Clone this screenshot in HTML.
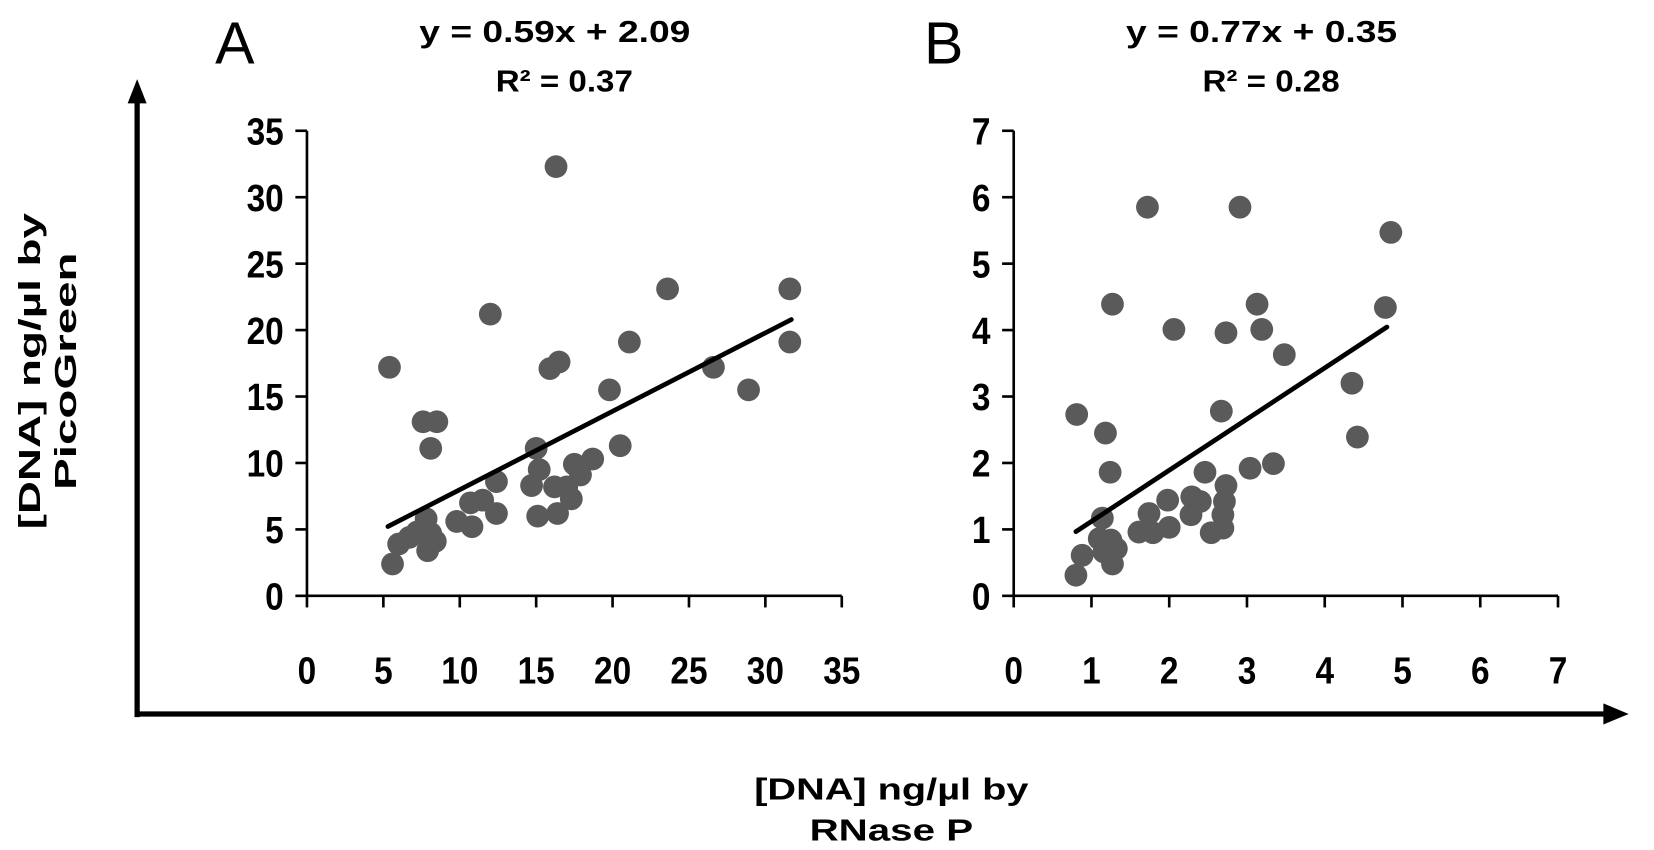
<!DOCTYPE html>
<html><head><meta charset="utf-8"><style>
html,body{margin:0;padding:0;background:#fff;}
svg{display:block;}
text{font-family:"Liberation Sans",sans-serif;font-weight:bold;fill:#000;}
</style></head><body>
<svg id="fig" width="1654" height="850" viewBox="0 0 1568 806" preserveAspectRatio="none" xmlns="http://www.w3.org/2000/svg">
<g id="frame">
<line x1="130" y1="680" x2="130" y2="95" stroke="#000" stroke-width="5"/>
<polygon points="130,75 121,98 139,98" fill="#000"/>
<line x1="128" y1="677" x2="1522" y2="677" stroke="#000" stroke-width="5"/>
<polygon points="1544,677 1520,667 1520,687" fill="#000"/>
<text transform="translate(38,352) rotate(-90)" text-anchor="middle" font-size="29" textLength="300" lengthAdjust="spacingAndGlyphs">[DNA] ng/µl by</text>
<text transform="translate(72,352) rotate(-90)" text-anchor="middle" font-size="29" textLength="225" lengthAdjust="spacingAndGlyphs">PicoGreen</text>
<text x="845" y="758" text-anchor="middle" font-size="29" textLength="260" lengthAdjust="spacingAndGlyphs">[DNA] ng/µl by</text>
<text x="845" y="797" text-anchor="middle" font-size="29" textLength="155" lengthAdjust="spacingAndGlyphs">RNase P</text>
<text x="204" y="60" font-size="56" style="font-weight:normal">A</text>
<text x="876" y="60" font-size="56" style="font-weight:normal">B</text>
<text x="526" y="40" text-anchor="middle" font-size="29" textLength="257" lengthAdjust="spacingAndGlyphs">y = 0.59x + 2.09</text>
<text x="535" y="87" text-anchor="middle" font-size="29" textLength="130" lengthAdjust="spacingAndGlyphs">R² = 0.37</text>
<text x="1196" y="40" text-anchor="middle" font-size="29" textLength="257" lengthAdjust="spacingAndGlyphs">y = 0.77x + 0.35</text>
<text x="1205" y="87" text-anchor="middle" font-size="29" textLength="130" lengthAdjust="spacingAndGlyphs">R² = 0.28</text>
</g>
<g id="panelA"></g>
<g id="panelB"></g>
</svg>
<script>
const ticksA = [0,5,10,15,20,25,30,35];
const ticksB = [0,1,2,3,4,5,6,7];
const xA = [16.3,12.0,23.6,31.6,31.6,21.1,26.6,28.9,5.4,15.9,16.5,19.8,7.6,8.5,8.1,20.5,15.0,15.2,14.7,18.7,17.5,17.9,16.2,17.0,17.3,16.4,15.1,12.4,12.4,11.5,10.7,9.8,10.8,7.8,8.1,7.2,6.7,6.0,7.9,8.4,5.6];
const yA = [32.3,21.2,23.1,23.1,19.1,19.1,17.2,15.5,17.2,17.1,17.6,15.5,13.1,13.1,11.1,11.3,11.1,9.5,8.3,10.3,9.9,9.1,8.2,8.2,7.3,6.2,6.0,8.6,6.2,7.2,7.0,5.6,5.2,5.8,4.7,4.8,4.4,3.9,3.4,4.1,2.4];
const xB = [1.72,2.91,4.85,1.27,3.13,4.78,2.06,2.73,3.19,3.48,4.35,4.42,0.81,1.18,2.67,1.24,2.46,3.04,3.34,2.73,1.98,2.29,2.40,1.74,2.28,2.71,2.69,2.00,1.79,1.61,2.54,2.69,1.14,1.10,1.25,1.32,1.16,1.27,0.88,0.80];
const yB = [5.85,5.85,5.47,4.39,4.39,4.34,4.01,3.96,4.01,3.63,3.20,2.39,2.73,2.45,2.78,1.86,1.86,1.92,1.99,1.66,1.44,1.49,1.42,1.24,1.22,1.42,1.22,1.03,0.95,0.96,0.95,1.02,1.17,0.86,0.84,0.71,0.66,0.48,0.61,0.31];
const fitA = [0.59, 2.09];
const fitB = [0.77, 0.35];
const fitRangeA = [5.3, 31.7];
const fitRangeB = [0.8, 4.8];

const NS = "http://www.w3.org/2000/svg";
function mk(tag, attrs, parent){
  const e = document.createElementNS(NS, tag);
  for (const k in attrs) e.setAttribute(k, attrs[k]);
  parent.appendChild(e);
  return e;
}
function panel(g, key, cfg, ticks, xs, ys, fit, range){
  const max = ticks[ticks.length-1];
  const sx = v => cfg.x0 + (v/max)*cfg.w;
  const sy = v => cfg.y0 - (v/max)*cfg.h;
  const ya = mk('line',{x1:cfg.x0,y1:sy(max),x2:cfg.x0,y2:cfg.y0,stroke:'#000','stroke-width':2.5},g);
  
  
  const xa = mk('line',{x1:cfg.x0,y1:cfg.y0,x2:sx(max),y2:cfg.y0,stroke:'#000','stroke-width':2.5},g);
  
  
  ticks.forEach(t=>{
    const yt = mk('line',{x1:cfg.x0-11,y1:sy(t),x2:cfg.x0,y2:sy(t),stroke:'#000','stroke-width':2.5},g);
    
    
    const yl = mk('text',{'text-anchor':'end','font-size':36,transform:'translate('+(cfg.x0-22)+','+(sy(t)+13)+') scale(0.88,1)'},g);
    yl.textContent = t;
    
    
    const xt = mk('line',{x1:sx(t),y1:cfg.y0,x2:sx(t),y2:cfg.y0+11,stroke:'#000','stroke-width':2.5},g);
    
    
    const xl = mk('text',{'text-anchor':'middle','font-size':36,transform:'translate('+sx(t)+','+(cfg.y0+83)+') scale(0.88,1)'},g);
    xl.textContent = t;
    
    
  });
  xs.forEach((v,i)=>{
    const c = mk('circle',{cx:sx(v),cy:sy(ys[i]),r:10.8,fill:'#5a5a5a'},g);
    
    
  });
  const l = mk('line',{x1:sx(range[0]),y1:sy(fit[0]*range[0]+fit[1]),x2:sx(range[1]),y2:sy(fit[0]*range[1]+fit[1]),stroke:'#000','stroke-width':4.5,'stroke-linecap':'round'},g);
  
  
}
panel(document.getElementById('panelA'),'panel-a',{x0:291,y0:565,w:507,h:441},ticksA,xA,yA,fitA,fitRangeA);
panel(document.getElementById('panelB'),'panel-b',{x0:961,y0:565,w:516,h:441},ticksB,xB,yB,fitB,fitRangeB);
</script>
</body></html>
